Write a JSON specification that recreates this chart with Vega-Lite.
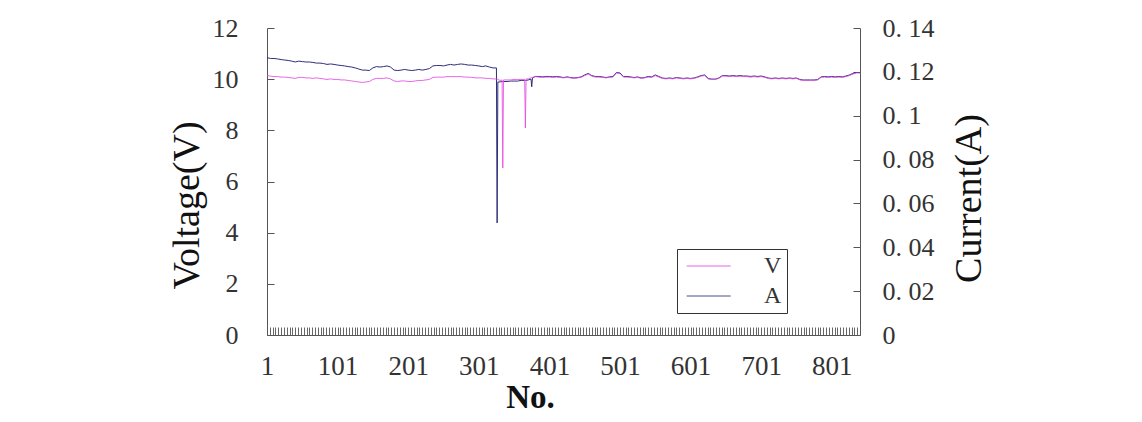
{
 "$schema": "https://vega.github.io/schema/vega-lite/v6.json",
 "width": 593,
 "height": 307,
 "autosize": "none",
 "padding": {"left": 267, "top": 28, "right": 282, "bottom": 87},
 "background": "white",
 "config": {
  "view": {"stroke": null},
  "font": "Liberation Serif",
  "axis": {"grid": false, "domainColor": "#555", "tickColor": "#555", "labelColor": "#333", "titleColor": "#111", "labelFont": "Liberation Serif", "titleFont": "Liberation Serif", "domainWidth": 1, "tickWidth": 1}
 },
 "data": {"values": [
  {"No":1,"V":10.14,"A":0.1265},{"No":6,"V":10.12,"A":0.1261},{"No":11,"V":10.10,"A":0.1261},{"No":16,"V":10.10,"A":0.1259},
  {"No":21,"V":10.08,"A":0.1256},{"No":26,"V":10.08,"A":0.1254},{"No":31,"V":10.07,"A":0.1252},{"No":36,"V":10.05,"A":0.1249},
  {"No":41,"V":10.03,"A":0.1245},{"No":46,"V":10.07,"A":0.1249},{"No":51,"V":10.07,"A":0.1247},{"No":56,"V":10.05,"A":0.1245},
  {"No":61,"V":10.05,"A":0.1245},{"No":66,"V":10.03,"A":0.1243},{"No":71,"V":10.05,"A":0.1240},{"No":76,"V":10.03,"A":0.1240},
  {"No":81,"V":10.01,"A":0.1238},{"No":86,"V":9.99,"A":0.1234},{"No":91,"V":10.01,"A":0.1236},{"No":96,"V":9.99,"A":0.1234},
  {"No":101,"V":9.99,"A":0.1231},{"No":106,"V":9.97,"A":0.1229},{"No":111,"V":9.97,"A":0.1227},{"No":116,"V":9.95,"A":0.1224},
  {"No":121,"V":9.93,"A":0.1222},{"No":126,"V":9.91,"A":0.1218},{"No":131,"V":9.89,"A":0.1213},{"No":136,"V":9.87,"A":0.1208},
  {"No":141,"V":9.89,"A":0.1208},{"No":146,"V":9.91,"A":0.1206},{"No":151,"V":9.99,"A":0.1218},{"No":156,"V":10.03,"A":0.1224},
  {"No":161,"V":10.03,"A":0.1222},{"No":166,"V":10.03,"A":0.1224},{"No":171,"V":10.05,"A":0.1227},{"No":176,"V":10.01,"A":0.1222},
  {"No":181,"V":9.93,"A":0.1208},{"No":186,"V":9.91,"A":0.1206},{"No":191,"V":9.93,"A":0.1208},{"No":196,"V":9.93,"A":0.1211},
  {"No":201,"V":9.91,"A":0.1208},{"No":206,"V":9.91,"A":0.1206},{"No":211,"V":9.93,"A":0.1208},{"No":216,"V":9.95,"A":0.1211},
  {"No":221,"V":9.95,"A":0.1208},{"No":226,"V":9.97,"A":0.1211},{"No":231,"V":9.99,"A":0.1215},{"No":236,"V":10.07,"A":0.1227},
  {"No":241,"V":10.08,"A":0.1229},{"No":246,"V":10.08,"A":0.1229},{"No":251,"V":10.08,"A":0.1227},{"No":256,"V":10.10,"A":0.1231},
  {"No":261,"V":10.10,"A":0.1234},{"No":266,"V":10.10,"A":0.1231},{"No":271,"V":10.10,"A":0.1234},{"No":276,"V":10.10,"A":0.1236},
  {"No":281,"V":10.08,"A":0.1234},{"No":286,"V":10.08,"A":0.1231},{"No":291,"V":10.07,"A":0.1231},{"No":296,"V":10.05,"A":0.1229},
  {"No":301,"V":10.05,"A":0.1227},{"No":306,"V":10.05,"A":0.1224},{"No":311,"V":10.03,"A":0.1227},{"No":316,"V":10.03,"A":0.1222},
  {"No":321,"V":10.01,"A":0.1218},{"No":326,"V":10.01,"A":0.1218},{"No":327,"V":10.01,"A":0.0511},{"No":328,"V":9.99,"A":0.1154},
  {"No":331,"V":9.95,"A":0.1154},{"No":334,"V":9.97,"A":0.1156},{"No":335,"V":6.53,"A":0.1156},{"No":336,"V":9.97,"A":0.1156},
  {"No":341,"V":9.97,"A":0.1156},{"No":346,"V":9.97,"A":0.1158},{"No":351,"V":9.99,"A":0.1158},{"No":356,"V":9.99,"A":0.1158},
  {"No":361,"V":9.99,"A":0.1161},{"No":366,"V":9.99,"A":0.1161},{"No":367,"V":8.09,"A":0.1161},{"No":368,"V":10.01,"A":0.1161},
  {"No":371,"V":10.01,"A":0.1163},{"No":375,"V":10.05,"A":0.1167},{"No":376,"V":10.07,"A":0.1132},{"No":377,"V":10.07,"A":0.1172},
  {"No":381,"V":10.10,"A":0.1179},{"No":386,"V":10.08,"A":0.1179},{"No":391,"V":10.07,"A":0.1177},{"No":396,"V":10.08,"A":0.1179},
  {"No":401,"V":10.08,"A":0.1179},{"No":406,"V":10.07,"A":0.1177},{"No":411,"V":10.08,"A":0.1179},{"No":416,"V":10.07,"A":0.1177},
  {"No":421,"V":10.05,"A":0.1174},{"No":426,"V":10.07,"A":0.1177},{"No":431,"V":10.05,"A":0.1174},{"No":436,"V":10.03,"A":0.1172},
  {"No":441,"V":10.05,"A":0.1174},{"No":446,"V":10.07,"A":0.1177},{"No":451,"V":10.14,"A":0.1186},{"No":456,"V":10.20,"A":0.1193},
  {"No":461,"V":10.12,"A":0.1183},{"No":466,"V":10.08,"A":0.1179},{"No":471,"V":10.08,"A":0.1179},{"No":476,"V":10.07,"A":0.1177},
  {"No":481,"V":10.05,"A":0.1174},{"No":486,"V":10.07,"A":0.1177},{"No":491,"V":10.08,"A":0.1179},{"No":496,"V":10.24,"A":0.1197},
  {"No":501,"V":10.22,"A":0.1195},{"No":506,"V":10.08,"A":0.1179},{"No":511,"V":10.08,"A":0.1179},{"No":516,"V":10.07,"A":0.1177},
  {"No":521,"V":10.05,"A":0.1174},{"No":526,"V":10.07,"A":0.1177},{"No":531,"V":10.03,"A":0.1172},{"No":536,"V":10.05,"A":0.1174},
  {"No":541,"V":10.08,"A":0.1179},{"No":546,"V":10.07,"A":0.1177},{"No":551,"V":10.14,"A":0.1186},{"No":556,"V":10.08,"A":0.1179},
  {"No":561,"V":10.03,"A":0.1172},{"No":566,"V":10.01,"A":0.1170},{"No":571,"V":10.03,"A":0.1172},{"No":576,"V":10.01,"A":0.1170},
  {"No":581,"V":10.05,"A":0.1174},{"No":586,"V":10.03,"A":0.1172},{"No":591,"V":10.01,"A":0.1170},{"No":596,"V":10.03,"A":0.1172},
  {"No":601,"V":10.01,"A":0.1170},{"No":606,"V":10.03,"A":0.1172},{"No":611,"V":10.07,"A":0.1177},{"No":616,"V":10.12,"A":0.1183},
  {"No":621,"V":10.14,"A":0.1186},{"No":626,"V":10.01,"A":0.1170},{"No":631,"V":9.99,"A":0.1167},{"No":636,"V":9.99,"A":0.1167},
  {"No":641,"V":10.03,"A":0.1172},{"No":646,"V":10.12,"A":0.1183},{"No":651,"V":10.12,"A":0.1183},{"No":656,"V":10.10,"A":0.1181},
  {"No":661,"V":10.12,"A":0.1183},{"No":666,"V":10.10,"A":0.1181},{"No":671,"V":10.12,"A":0.1183},{"No":676,"V":10.10,"A":0.1181},
  {"No":681,"V":10.10,"A":0.1181},{"No":686,"V":10.08,"A":0.1179},{"No":691,"V":10.10,"A":0.1181},{"No":696,"V":10.08,"A":0.1179},
  {"No":701,"V":10.10,"A":0.1181},{"No":706,"V":10.07,"A":0.1177},{"No":711,"V":10.03,"A":0.1172},{"No":716,"V":10.01,"A":0.1170},
  {"No":721,"V":10.03,"A":0.1172},{"No":726,"V":10.01,"A":0.1170},{"No":731,"V":10.03,"A":0.1172},{"No":736,"V":10.01,"A":0.1170},
  {"No":741,"V":10.03,"A":0.1172},{"No":746,"V":10.01,"A":0.1170},{"No":751,"V":10.03,"A":0.1172},{"No":756,"V":9.97,"A":0.1165},
  {"No":761,"V":9.95,"A":0.1163},{"No":766,"V":9.95,"A":0.1163},{"No":771,"V":9.95,"A":0.1163},{"No":776,"V":9.95,"A":0.1163},
  {"No":781,"V":9.97,"A":0.1165},{"No":786,"V":10.07,"A":0.1177},{"No":791,"V":10.08,"A":0.1179},{"No":796,"V":10.07,"A":0.1177},
  {"No":801,"V":10.08,"A":0.1179},{"No":806,"V":10.07,"A":0.1177},{"No":811,"V":10.08,"A":0.1179},{"No":816,"V":10.07,"A":0.1177},
  {"No":821,"V":10.10,"A":0.1181},{"No":826,"V":10.14,"A":0.1186},{"No":831,"V":10.20,"A":0.1193},{"No":836,"V":10.24,"A":0.1197},
  {"No":841,"V":10.24,"A":0.1197}
 ]},
 "encoding": {
  "x": {
   "field": "No", "type": "quantitative",
   "scale": {"domain": [1, 841], "nice": false, "zero": false},
   "axis": {
    "title": "No.", "titleFontSize": 33, "titleFontWeight": "bold", "titlePadding": 2, "titleX": 263, "titleAlign": "center",
    "values": [1,5,9,13,17,21,25,29,33,37,41,45,49,53,57,61,65,69,73,77,81,85,89,93,97,101,105,109,113,117,121,125,129,133,137,141,145,149,153,157,161,165,169,173,177,181,185,189,193,197,201,205,209,213,217,221,225,229,233,237,241,245,249,253,257,261,265,269,273,277,281,285,289,293,297,301,305,309,313,317,321,325,329,333,337,341,345,349,353,357,361,365,369,373,377,381,385,389,393,397,401,405,409,413,417,421,425,429,433,437,441,445,449,453,457,461,465,469,473,477,481,485,489,493,497,501,505,509,513,517,521,525,529,533,537,541,545,549,553,557,561,565,569,573,577,581,585,589,593,597,601,605,609,613,617,621,625,629,633,637,641,645,649,653,657,661,665,669,673,677,681,685,689,693,697,701,705,709,713,717,721,725,729,733,737,741,745,749,753,757,761,765,769,773,777,781,785,789,793,797,801,805,809,813,817,821,825,829,833,837,841],
    "labelExpr": "(datum.value - 1) % 100 === 0 ? datum.label : ''",
    "labelOverlap": false, "labelFlush": false, "labelFontSize": 27,
    "tickSize": -8, "labelPadding": 26, "tickColor": "#666"
   }
  }
 },
 "layer": [
  {
   "mark": {"type": "line", "strokeWidth": 1, "color": "#2e2e7a"},
   "encoding": {
    "y": {
     "field": "A", "type": "quantitative",
     "scale": {"domain": [0, 0.14], "nice": false, "zero": true},
     "axis": {
      "orient": "right", "title": "Current(A)", "titleFontSize": 38, "titleFontWeight": "normal", "titleAngle": 270, "titlePadding": 54, "titleY": 170,
      "values": [0, 0.02, 0.04, 0.06, 0.08, 0.1, 0.12, 0.14],
      "labelExpr": "replace(format(datum.value, '.2~f'), '.', '. ')",
      "labelFontSize": 26, "tickSize": -7, "labelPadding": 29, "labelFlush": false
     }
    },
    "color": {"datum": "A"}
   }
  },
  {
   "mark": {"type": "line", "strokeWidth": 1, "color": "#e34be3", "opacity": 0.85},
   "encoding": {
    "y": {
     "field": "V", "type": "quantitative",
     "scale": {"domain": [0, 12], "nice": false, "zero": true},
     "axis": {
      "orient": "left", "title": "Voltage(V)", "titleFontSize": 38, "titleFontWeight": "normal", "titlePadding": 6, "titleY": 177,
      "values": [0, 2, 4, 6, 8, 10, 12],
      "labelFontSize": 26, "tickSize": -7, "labelPadding": 36, "labelFlush": false
     }
    },
    "color": {
     "datum": "V",
     "scale": {"domain": ["V", "A"], "range": ["#e34be3", "#2e2e7a"]},
     "legend": {
      "title": null, "orient": "none", "legendX": 410, "legendY": 221,
      "symbolType": "M-1,0H5", "symbolSize": 215, "symbolStrokeWidth": 1,
      "labelFont": "Liberation Serif", "labelFontSize": 24, "labelColor": "#333", "labelOffset": 58,
      "rowPadding": 6, "padding": 5, "fillColor": "white", "strokeColor": "#333"
     }
    }
   }
  }
 ],
 "resolve": {"scale": {"y": "independent"}}
}
